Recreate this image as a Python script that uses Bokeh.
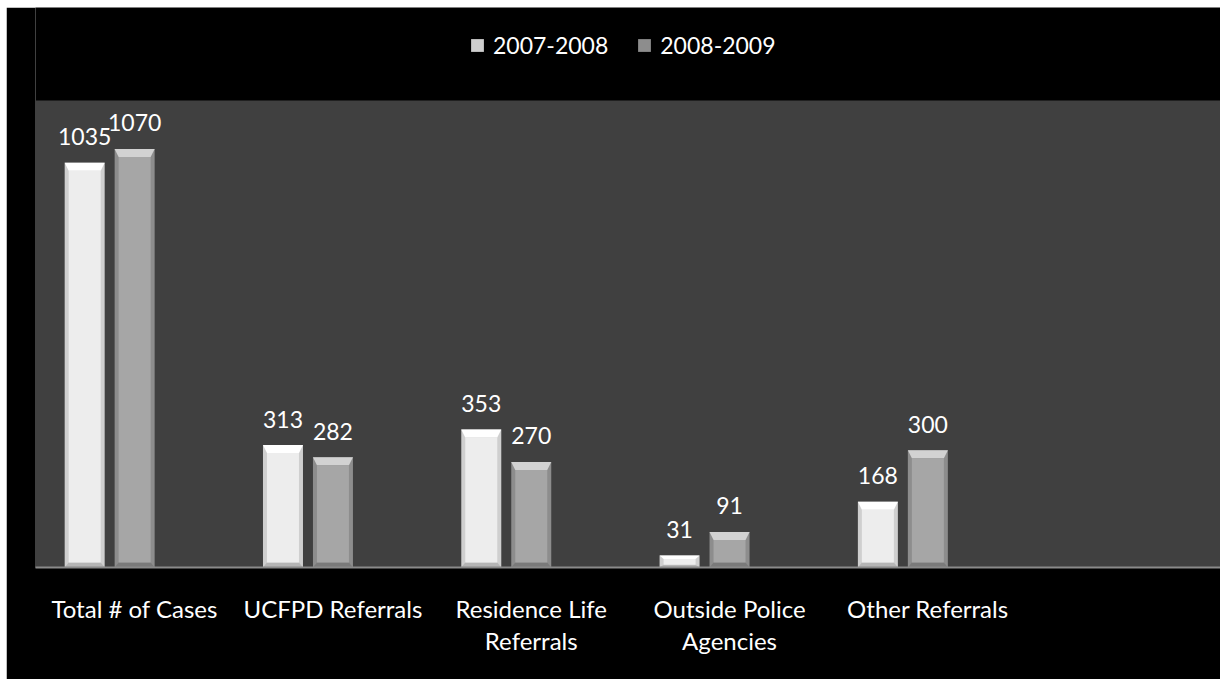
import numpy as np
from bokeh.plotting import figure
from bokeh.layouts import column, row
from bokeh.models import (ColumnDataSource, Range1d, FixedTicker, Legend, LegendItem,
                          Spacer, BoxAnnotation)
from bokeh.core.properties import value
from bokeh.embed import file_html
from bokeh.resources import INLINE

categories = ["Total # of Cases", "UCFPD Referrals", "Residence Life\nReferrals",
              "Outside Police\nAgencies", "Other Referrals"]
series_names = ["2007-2008", "2008-2009"]
values_2007_2008 = [1035, 313, 353, 31, 168]
values_2008_2009 = [1070, 282, 270, 91, 300]

FONT = "Lato"
W, H = 1214, 672
BL, BR, BT, BB = 29, 0, 0, 112
frame_w = W - BL - BR
frame_h = H - BT - BB          # 560 px, the top 93 px hold the legend
area_px = 467                  # height of the grey plot area
cat_px = 198.3
y_max = 1194                   # value at the top of the grey plot area
y_end = y_max * frame_h / area_px

p = figure(width=W, height=H, output_backend="svg", toolbar_location=None,
           x_range=Range1d(-0.5, -0.5 + frame_w / cat_px),
           y_range=Range1d(0, y_end), y_axis_location=None,
           min_border_left=BL, min_border_right=BR, min_border_top=BT, min_border_bottom=BB)
p.background_fill_color = "#000000"
p.border_fill_color = "#000000"
p.outline_line_color = None
p.xgrid.visible = False
p.ygrid.visible = False

p.add_layout(BoxAnnotation(bottom=0, top=y_max, fill_color="#404040", fill_alpha=1,
                           line_color=None, level="underlay"))

ax = p.xaxis[0]
ax.ticker = FixedTicker(ticks=list(range(len(categories))))
ax.major_label_overrides = {i: c for i, c in enumerate(categories)}
ax.major_tick_line_color = None
ax.minor_tick_line_color = None
ax.axis_line_color = "#8a8a8a"
ax.axis_line_width = 2
ax.major_label_text_color = "#ffffff"
ax.major_label_text_font = FONT
ax.major_label_text_font_size = "24px"
ax.major_label_text_line_height = 1.12
ax.major_label_standoff = 20

px_x = 1.0 / cat_px
px_y = y_max / area_px
bar_w = 40 * px_x
offsets = [-0.252, 0.0]
styles = [
    dict(side="#cfcfcf", top="#ffffff", bottom="#b5b5b5", face="#ededed"),
    dict(side="#8d8d8d", top="#d2d2d2", bottom="#7a7a7a", face="#a6a6a6"),
]

legend_items = []
idx = np.arange(len(categories))
for vals, off, st, name in zip([values_2007_2008, values_2008_2009], offsets, styles, series_names):
    v = np.array(vals, dtype=float)
    xc = idx + off
    left = xc - bar_w / 2
    right = xc + bar_w / 2
    s = 4 * px_x
    bt = np.minimum(8 * px_y, 0.3 * v)
    bb = np.minimum(5 * px_y, 0.22 * v)
    src = ColumnDataSource(dict(left=left, right=right, top=v, bottom=np.zeros_like(v),
                                fl=left + s, fr=right - s, ft=v - bt, fb=bb))
    base = p.quad(left="left", right="right", top="top", bottom="bottom", source=src,
                  fill_color=st["side"], line_color=None)
    xs_top = [[l, r, r - s, l + s] for l, r in zip(left, right)]
    ys_top = [[t, t, t - b, t - b] for t, b in zip(v, bt)]
    p.patches(xs_top, ys_top, fill_color=st["top"], line_color=None)
    xs_bot = [[l, r, r - s, l + s] for l, r in zip(left, right)]
    ys_bot = [[0, 0, b, b] for b in bb]
    p.patches(xs_bot, ys_bot, fill_color=st["bottom"], line_color=None)
    p.quad(left="fl", right="fr", top="ft", bottom="fb", source=src,
           fill_color=st["face"], line_color=None)
    lab = ColumnDataSource(dict(x=xc, y=v, t=[str(int(a)) for a in vals]))
    p.text(x="x", y="y", text="t", source=lab, text_align="center",
           text_baseline="alphabetic", y_offset=-26, text_color="#ffffff",
           text_font=value(FONT), text_font_size="23px")
    legend_items.append(LegendItem(label=name, renderers=[base]))

legend = Legend(items=legend_items, orientation="horizontal",
                location=(434, frame_h - 52), padding=0, margin=0,
                spacing=28, label_standoff=8, glyph_width=16, glyph_height=16,
                label_height=27,
                label_text_color="#ffffff", label_text_font=FONT,
                label_text_font_size="23px", background_fill_alpha=0,
                border_line_color=None)
p.add_layout(legend, "center")

layout = column(Spacer(height=7), row(Spacer(width=6), p, spacing=0), spacing=0)
open("out.html", "w").write(file_html(layout, INLINE))
